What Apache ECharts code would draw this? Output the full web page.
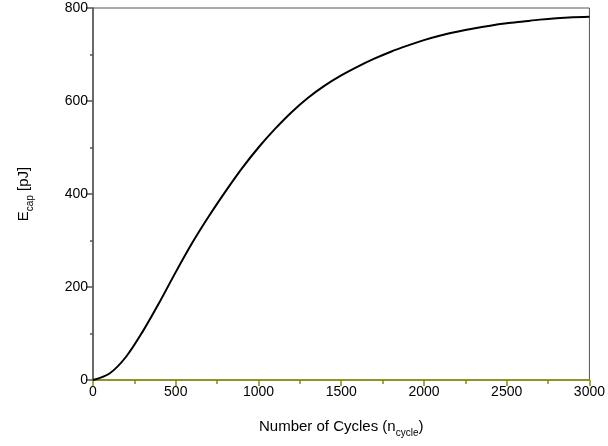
<!DOCTYPE html>
<html><head><meta charset="utf-8">
<script src="https://cdn.jsdelivr.net/npm/echarts@6/dist/echarts.min.js"></script>
<style>html,body{margin:0;padding:0;background:#fff}#c{width:608px;height:446px}</style>
</head><body><div id="c"></div>
<script>
const cycles = [0,100,200,300,400,500,600,700,800,900,1000,1100,1200,1300,1400,1500,1600,1700,1800,1900,2000,2100,2200,2300,2400,2500,2600,2700,2800,2900,3000];
const ecap = [0,14,50,104,166,232,295,352,405,455,500,540,576,607,633,655,674,691,706,719,731,741,749,756,762,767,771,775,778,780,781];
const xTicks = [0,500,1000,1500,2000,2500,3000];
const yTicks = [0,200,400,600,800];

const chart = echarts.init(document.getElementById('c'), null, {renderer:'canvas'});
const font = 'Arial, "Liberation Sans", sans-serif';
chart.setOption({
  animation:false,
  backgroundColor:'#fff',
  grid:{left:93, top:8, right:14, bottom:66, show:true, borderColor:'#555', borderWidth:1, backgroundColor:'transparent'},
  xAxis:{
    type:'value', min:xTicks[0], max:xTicks[xTicks.length-1], interval:500,
    axisLine:{show:true, lineStyle:{color:'#8a8a00', width:1.5}},
    axisTick:{show:true, length:6, lineStyle:{color:'#8a8a00', width:1.5}},
    minorTick:{show:true, splitNumber:2, length:4, lineStyle:{color:'#8a8a00', width:1.5}},
    splitLine:{show:false},
    axisLabel:{color:'#000', fontSize:14, fontFamily:font, margin:5, showMaxLabel:true, formatter:v=>String(v)},
    name:'{b|Number of Cycles (n}{s|cycle}{b|)}',
    nameLocation:'middle', nameGap:36,
    nameTextStyle:{rich:{b:{fontSize:15, fontFamily:font, color:'#000', lineHeight:18, verticalAlign:'bottom'}, s:{fontSize:10, fontFamily:font, color:'#000', verticalAlign:'bottom', lineHeight:10, padding:[0,0,-4,0]}}}
  },
  yAxis:{
    type:'value', min:yTicks[0], max:yTicks[yTicks.length-1], interval:200,
    axisLine:{show:true, lineStyle:{color:'#555', width:1.5}},
    axisTick:{show:true, length:7, lineStyle:{color:'#555', width:1.5}},
    minorTick:{show:true, splitNumber:2, length:3, lineStyle:{color:'#555', width:1.5}},
    splitLine:{show:false},
    axisLabel:{color:'#000', fontSize:14, fontFamily:font, margin:5, formatter:v=>String(v)},
    name:'{b|E}{s|cap}{b| [pJ]}',
    nameLocation:'middle', nameGap:62,
    nameTextStyle:{rich:{b:{fontSize:15, fontFamily:font, color:'#000', lineHeight:18, verticalAlign:'bottom'}, s:{fontSize:10, fontFamily:font, color:'#000', verticalAlign:'bottom', lineHeight:10, padding:[0,0,-4,0]}}}
  },
  series:[{
    type:'line', data:cycles.map((c,i)=>[c, ecap[i]]), smooth:0.3, showSymbol:false,
    lineStyle:{color:'#000', width:2}, clip:true
  }]
});
</script></body></html>
